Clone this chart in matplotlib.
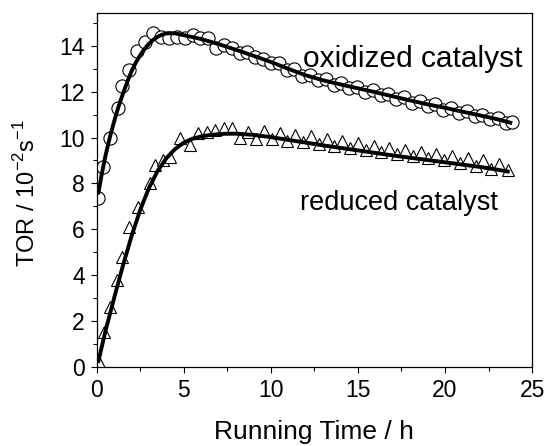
import matplotlib
matplotlib.use("Agg")
import matplotlib.pyplot as plt
from matplotlib.ticker import MultipleLocator

plt.rcParams["font.family"] = ["Liberation Sans", "DejaVu Sans"]
plt.rcParams["mathtext.fontset"] = "custom"
plt.rcParams["mathtext.rm"] = "Liberation Sans"

# ---- oxidized catalyst: measured points (circles) ----
OX_T = [0.1, 0.35, 0.75, 1.2, 1.45, 1.85, 2.3, 2.8, 3.25, 3.7, 4.15, 4.6, 5.05,
        5.5, 5.95, 6.4, 6.85, 7.3, 7.75, 8.2, 8.65, 9.1, 9.55, 10.0, 10.45, 10.9,
        11.35, 11.8, 12.25, 12.7, 13.15, 13.6, 14.05, 14.5, 14.95, 15.4, 15.85,
        16.3, 16.75, 17.2, 17.65, 18.1, 18.55, 19.0, 19.45, 19.9, 20.35, 20.8,
        21.25, 21.7, 22.15, 22.6, 23.05, 23.5, 23.85]
OX_TOR = [7.35, 8.73, 9.97, 11.28, 12.23, 12.96, 13.76, 14.19, 14.56, 14.41,
          14.34, 14.41, 14.35, 14.48, 14.34, 14.35, 13.9, 14.05, 13.9, 13.7,
          13.75, 13.5, 13.45, 13.25, 13.25, 12.95, 13.0, 12.7, 12.72, 12.5,
          12.55, 12.3, 12.38, 12.15, 12.22, 12.0, 12.08, 11.85, 11.92, 11.68,
          11.75, 11.52, 11.6, 11.38, 11.45, 11.22, 11.3, 11.08, 11.15, 10.93,
          11.0, 10.8, 10.85, 10.65, 10.7]

# ---- reduced catalyst: measured points (triangles) ----
RED_T = [0.15, 0.42, 0.76, 1.15, 1.47, 1.87, 2.39, 3.06, 3.35, 3.8, 4.2, 4.79,
         5.36, 5.84, 6.32, 6.8, 7.28, 7.76, 8.24, 8.7, 9.15, 9.6, 10.05, 10.5,
         10.95, 11.4, 11.85, 12.3, 12.75, 13.2, 13.65, 14.1, 14.55, 15.0, 15.45,
         15.9, 16.35, 16.8, 17.25, 17.7, 18.15, 18.6, 19.05, 19.5, 19.95, 20.4,
         20.85, 21.3, 21.75, 22.2, 22.65, 23.1, 23.6]
RED_TOR = [0.22, 1.53, 2.62, 3.79, 4.78, 6.11, 6.99, 8.0, 8.8, 9.0, 9.17, 9.97,
           9.68, 10.19, 10.26, 10.34, 10.41, 10.41, 9.97, 10.26, 9.95, 10.3,
           9.95, 10.2, 9.85, 10.1, 9.8, 10.05, 9.7, 9.95, 9.65, 9.85, 9.55, 9.75,
           9.45, 9.65, 9.35, 9.55, 9.3, 9.45, 9.2, 9.35, 9.1, 9.3, 9.0, 9.2, 8.9,
           9.1, 8.75, 9.0, 8.65, 8.85, 8.6]

# ---- fitted curves ----
OX_FIT_T = [0.1, 0.3, 0.5, 0.75, 1.0, 1.25, 1.5, 1.75, 2.0, 2.25, 2.5, 2.75, 3.0,
            3.25, 3.5, 3.75, 4.0, 4.5, 5, 6, 7, 8, 9, 10, 11, 12, 13, 14, 15, 16,
            17, 18, 19, 20, 21, 22, 23, 23.75]
OX_FIT = [7.6, 8.45, 9.2, 10.0, 10.7, 11.35, 11.9, 12.42, 12.9, 13.28, 13.6,
          13.87, 14.1, 14.27, 14.4, 14.49, 14.55, 14.55, 14.47, 14.3, 14.08,
          13.83, 13.57, 13.3, 13.0, 12.72, 12.5, 12.32, 12.15, 11.98, 11.8,
          11.62, 11.45, 11.3, 11.13, 10.97, 10.8, 10.65]

RED_FIT_T = [0.1, 0.5, 1, 1.5, 2, 2.5, 3, 3.5, 4, 4.5, 5, 5.5, 6, 6.5, 7, 7.5, 8,
             9, 10, 11, 12, 13, 14, 15, 16, 17, 18, 19, 20, 21, 22, 23, 23.6]
RED_FIT = [0.25, 1.55, 3.0, 4.4, 5.7, 6.85, 7.8, 8.55, 9.1, 9.5, 9.78, 9.95,
           10.05, 10.11, 10.15, 10.17, 10.17, 10.12, 10.02, 9.9, 9.78, 9.66,
           9.55, 9.44, 9.33, 9.22, 9.12, 9.02, 8.92, 8.82, 8.72, 8.6, 8.52]


def main():
    fig = plt.figure(figsize=(5.48, 4.46), dpi=100)
    ax = fig.add_axes([0.1765, 0.1778, 0.7945, 0.7937])

    ax.plot(OX_T, OX_TOR, "o", ms=9.5, mfc="white", mec="black", mew=0.8, zorder=2)
    ax.plot(RED_T, RED_TOR, "^", ms=8.5, mfc="white", mec="black", mew=0.8, zorder=2)
    ax.plot(OX_FIT_T, OX_FIT, "-", color="black", lw=2.8, zorder=3)
    ax.plot(RED_FIT_T, RED_FIT, "-", color="black", lw=2.8, zorder=3)

    ax.text(11.85, 13.1, "oxidized catalyst", fontsize=21.5, va="baseline")
    ax.text(11.68, 6.84, "reduced catalyst", fontsize=19.5, va="baseline")

    ax.set_xlim(0, 25)
    ax.set_ylim(0, 15.45)
    ax.xaxis.set_major_locator(MultipleLocator(5))
    ax.xaxis.set_minor_locator(MultipleLocator(2.5))
    ax.yaxis.set_major_locator(MultipleLocator(2))
    ax.yaxis.set_minor_locator(MultipleLocator(1))
    ax.tick_params(which="both", direction="out", top=False, right=False,
                   labelsize=16.5, width=0.8)
    ax.tick_params(which="major", length=4.5, pad=4)
    ax.tick_params(which="minor", length=3)
    for s in ax.spines.values():
        s.set_linewidth(0.9)

    ax.set_xlabel("Running Time / h", fontsize=19)
    ax.set_ylabel(r"TOR / 10$^{-2}$s$^{-1}$", fontsize=17)
    ax.xaxis.set_label_coords(0.5, -0.15)
    ax.yaxis.set_label_coords(-0.13, 0.49)

    fig.savefig("out.png", dpi=100)


if __name__ == "__main__":
    main()
